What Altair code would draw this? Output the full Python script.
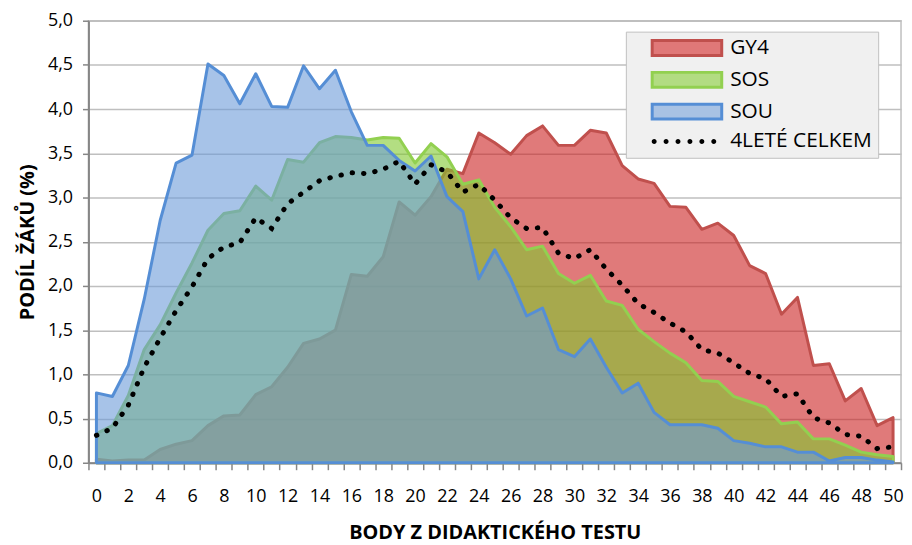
import altair as alt
import pandas as pd

# ---- data ----
POINTS = list(range(51))
SERIES = ["GY4", "SOS", "SOU", "4LETÉ CELKEM"]
AREAS = ["GY4", "SOS", "SOU"]

GY4 = [0.04, 0.02, 0.03, 0.03, 0.15, 0.21, 0.25, 0.42, 0.53, 0.54,
       0.77, 0.86, 1.08, 1.35, 1.40, 1.50, 2.13, 2.11, 2.33, 2.95,
       2.80, 3.01, 3.32, 3.27, 3.73, 3.62, 3.49, 3.70, 3.81, 3.59,
       3.59, 3.76, 3.73, 3.36, 3.21, 3.16, 2.90, 2.89, 2.64, 2.71,
       2.57, 2.23, 2.14, 1.68, 1.87, 1.10, 1.12, 0.70, 0.84, 0.42, 0.51]
SOS = [0.33, 0.42, 0.76, 1.28, 1.56, 1.92, 2.26, 2.63, 2.82, 2.85,
       3.13, 2.97, 3.43, 3.40, 3.62, 3.69, 3.68, 3.65, 3.68, 3.67,
       3.39, 3.61, 3.46, 3.15, 3.20, 2.89, 2.67, 2.41, 2.45, 2.14,
       2.03, 2.12, 1.83, 1.78, 1.51, 1.37, 1.24, 1.13, 0.93, 0.92,
       0.75, 0.69, 0.63, 0.44, 0.46, 0.27, 0.27, 0.20, 0.12, 0.09, 0.07]
SOU = [0.79, 0.75, 1.10, 1.85, 2.74, 3.39, 3.48, 4.51, 4.38, 4.06,
       4.40, 4.03, 4.02, 4.49, 4.23, 4.44, 3.97, 3.59, 3.59, 3.42,
       3.30, 3.47, 3.01, 2.84, 2.08, 2.41, 2.08, 1.66, 1.75, 1.28,
       1.20, 1.40, 1.08, 0.79, 0.90, 0.57, 0.43, 0.43, 0.43, 0.39,
       0.25, 0.22, 0.18, 0.18, 0.12, 0.12, 0.02, 0.06, 0.06, 0.03, 0.01]
CELKEM = [0.31, 0.39, 0.65, 1.08, 1.41, 1.72, 1.99, 2.31, 2.44, 2.49,
          2.77, 2.65, 2.93, 3.06, 3.19, 3.24, 3.28, 3.27, 3.32, 3.41,
          3.15, 3.37, 3.29, 3.06, 3.15, 2.97, 2.77, 2.65, 2.66, 2.37,
          2.31, 2.41, 2.19, 2.01, 1.80, 1.70, 1.58, 1.48, 1.28, 1.24,
          1.13, 1.01, 0.95, 0.75, 0.78, 0.51, 0.45, 0.32, 0.30, 0.16, 0.18]

Y_TICKS = [0.0, 0.5, 1.0, 1.5, 2.0, 2.5, 3.0, 3.5, 4.0, 4.5, 5.0]
X_LABELS = list(range(0, 51, 2))
X_BOUNDS = [i - 0.5 for i in range(52)]

FILL_COLORS = ["#cb2121", "#80c82f", "#6c9bd9"]
STROKE_COLORS = ["#c0504d", "#92d050", "#558ed5", "#000000"]

rows = []
for name, vals in zip(SERIES, [GY4, SOS, SOU, CELKEM]):
    for x, v in zip(POINTS, vals):
        rows.append({"series": name, "body": x, "podil": v})
df = pd.DataFrame(rows)

FONT = "Open Sans"

x_axis = alt.Axis(
    values=sorted(X_BOUNDS + X_LABELS),
    labelExpr="datum.value % 2 == 0 ? format(datum.value, 'd') : ''",
    tickOpacity={"condition": {"test": "datum.value % 1 == 0", "value": 0}, "value": 1},
    grid=False, labelOverlap=False, labelFlush=False,
    tickSize=7, tickWidth=1.5, tickColor="#868686",
    domainColor="#868686", domainWidth=2,
    labelFont=FONT, labelFontSize=18, labelColor="#000000", labelPadding=18,
    titleFont=FONT, titleFontSize=20, titleFontWeight="bold", titleColor="#000000",
    titlePadding=17,
)
y_axis = alt.Axis(
    values=Y_TICKS,
    labelExpr="replace(format(datum.value, '.1f'), '.', ',')",
    grid=True, gridColor="#bfbfbf", gridWidth=1.5,
    tickSize=6, tickWidth=1.5, tickColor="#868686",
    domainColor="#868686", domainWidth=2,
    labelFont=FONT, labelFontSize=18, labelColor="#000000", labelPadding=10,
    titleFont=FONT, titleFontSize=20, titleFontWeight="bold", titleColor="#000000",
    titlePadding=10,
)

xs = alt.X("body:Q", scale=alt.Scale(domain=[-0.5, 50.5], nice=False, zero=False),
           axis=x_axis, title="BODY Z DIDAKTICKÉHO TESTU")
ys = alt.Y("podil:Q", scale=alt.Scale(domain=[0, 5], nice=False),
           axis=y_axis, title="PODÍL ŽÁKŮ (%)")

RECT = "M1.333,-1H10.667V1H1.333Z"
DOTS = "".join(
    f"M{c - 0.333:.3f},0a0.333,0.333 0 1,0 0.666,0a0.333,0.333 0 1,0 -0.666,0"
    for c in [1.6, 3.2, 4.8, 6.4, 8.0, 9.6]
)

NBSP = "\u00a0" * 10

legend = alt.Legend(
    title=None, orient="none", legendX=541, legendY=11,
    fillColor="#f0f0f0", strokeColor="#bfbfbf", padding=6,
    symbolType=alt.ExprRef(expr=f"datum.value == '4LETÉ CELKEM' ? '{DOTS}' : '{RECT}'"),
    symbolSize=225,
    symbolStrokeWidth=alt.ExprRef(expr="datum.value == '4LETÉ CELKEM' ? 0 : 3"),
    symbolFillColor=alt.ExprRef(
        expr="datum.value == 'GY4' ? '#e07878' : datum.value == 'SOS' ? '#b2dc82' : "
             "datum.value == 'SOU' ? '#a8c2e4' : '#000000'"),
    symbolOpacity=1,
    labelFont=FONT, labelFontSize=21, labelColor="#000000", labelOffset=78,
    labelExpr=f"datum.label == '4LETÉ CELKEM' ? datum.label + '{NBSP}' : datum.label",
    labelLimit=400,
    rowPadding=5,
)

fill_enc = alt.Fill("series:N", scale=alt.Scale(domain=AREAS, range=FILL_COLORS), legend=None)
stroke_enc = alt.Stroke("series:N", scale=alt.Scale(domain=SERIES, range=STROKE_COLORS), legend=legend)

base = alt.Chart(df)


def area_layer(name):
    return base.transform_filter(alt.datum.series == name).mark_area(
        fillOpacity=0.6, strokeWidth=3, strokeJoin="round"
    ).encode(x=xs, y=ys, fill=fill_enc, stroke=stroke_enc)


line_layer = base.transform_filter(alt.datum.series == "4LETÉ CELKEM").mark_line(
    strokeWidth=5, strokeDash=[0.5, 11], strokeCap="round"
).encode(x=xs, y=ys, stroke=stroke_enc)

chart = alt.layer(
    area_layer("GY4"), area_layer("SOS"), area_layer("SOU"), line_layer
).properties(
    width=818, height=445,
    autosize=alt.AutoSizeParams(type="none"),
    padding={"left": 81, "top": 11, "right": 3, "bottom": 81},
    background="#ffffff",
).configure_view(stroke="#bfbfbf", strokeWidth=1.5)

chart.save("out.html", embed_options={"renderer": "svg", "actions": False})
